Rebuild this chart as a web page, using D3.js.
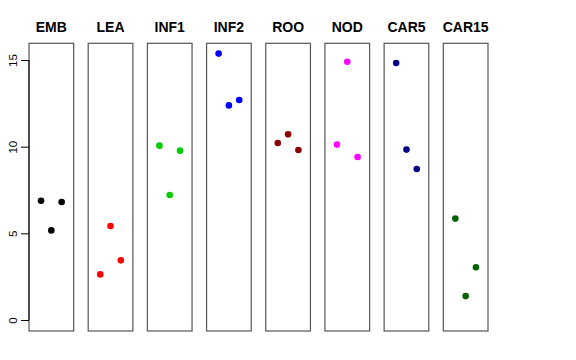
<!DOCTYPE html>
<html><head><meta charset="utf-8">
<script src="https://cdn.jsdelivr.net/npm/d3@7"></script>
<style>body{margin:0;background:#fff}svg{display:block}</style>
</head><body>
<script>
const categories = ["EMB","LEA","INF1","INF2","ROO","NOD","CAR5","CAR15"];
const colors = ["#000000","#FF0000","#00CD00","#0000FF","#8B0000","#FF00FF","#000080","#006400"];
// three replicate values per category (left, centre, right)
const rep1 = [6.88, 2.63, 10.06, 15.37, 10.21, 10.12, 14.83, 5.85];
const rep2 = [5.17, 5.42, 7.21, 12.38, 10.71, 14.90, 9.83, 1.38];
const rep3 = [6.81, 3.44, 9.77, 12.69, 9.81, 9.40, 8.71, 3.04];
const yTicks = [0, 5, 10, 15];

const W = 576, H = 360;
const svg = d3.select("body").append("svg").attr("width", W).attr("height", H);

const y = d3.scaleLinear().domain([0, 15]).range([320, 60]);
const panelTop = 43.3, panelBottom = 331;
const x = d3.scaleBand().domain(categories).range([29, 488]).paddingInner(0.245).paddingOuter(0);
const jitter = d3.scalePoint().domain([0,1,2]).range([-10.3, 10.3]);

categories.forEach((c, i) => {
  const x0 = x(c), bw = x.bandwidth();
  const g = svg.append("g");
  g.append("rect").attr("x", x0).attr("y", panelTop).attr("width", bw).attr("height", panelBottom - panelTop)
    .attr("fill", "none").attr("stroke", "#555").attr("stroke-width", 1.2);
  g.append("text").attr("x", x0 + bw/2).attr("y", 32).attr("text-anchor", "middle")
    .attr("font-family", "Liberation Sans, Arial, sans-serif").attr("font-weight", "bold").attr("font-size", 14)
    .text(c);
  [rep1[i], rep2[i], rep3[i]].forEach((v, j) => {
    g.append("circle").attr("cx", x0 + bw/2 + jitter(j)).attr("cy", y(v)).attr("r", 3.3).attr("fill", colors[i]);
  });
});

const axis = d3.axisLeft(y).tickValues(yTicks).tickSize(8).tickFormat(d3.format("d"));
const ag = svg.append("g").attr("transform", "translate(29,0)").call(axis);
ag.select(".domain").attr("stroke", "#000").attr("d", `M0,${y(0)}V${y(15)}`);
ag.selectAll(".tick line").attr("stroke", "#000");
ag.selectAll(".tick text").attr("font-family", "Liberation Sans, Arial, sans-serif").attr("font-size", 11.5)
  .attr("fill", "#000").attr("text-anchor", "middle").attr("x", null).attr("dy", null)
  .attr("transform", "translate(-16,0) rotate(-90)").attr("dy", "0.35em");
</script>
</body></html>
